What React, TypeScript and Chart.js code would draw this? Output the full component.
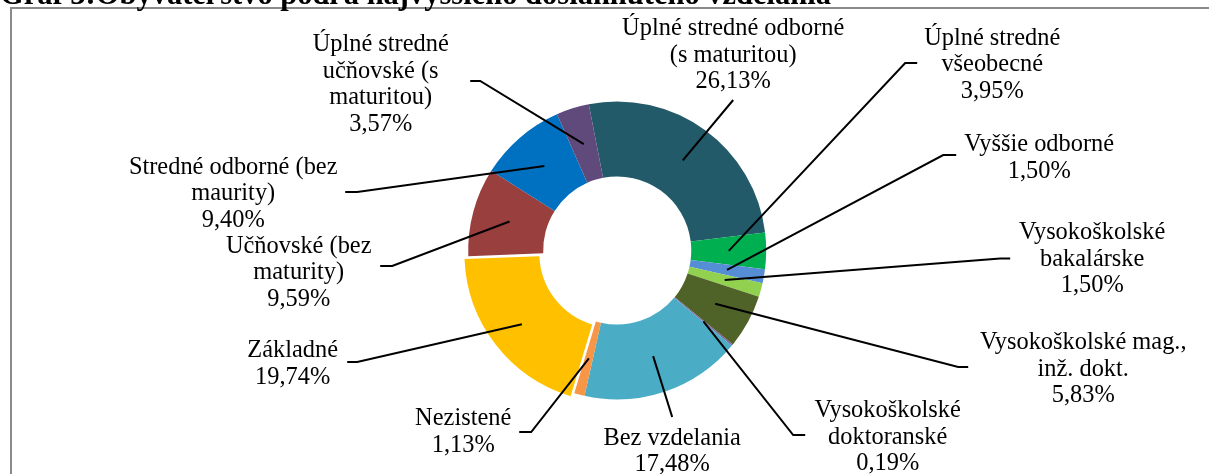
import React, { useEffect, useRef } from 'react';
import { Chart, registerables } from 'chart.js';

Chart.register(...registerables);

const TITLE = 'Graf 3:Obyvateľstvo podľa najvyššieho dosiahnutého vzdelania';

const categories = [
  'Úplné stredné odborné\n(s maturitou)',
  'Úplné stredné\nvšeobecné',
  'Vyššie odborné',
  'Vysokoškolské\nbakalárske',
  'Vysokoškolské mag.,\ninž. dokt.',
  'Vysokoškolské\ndoktoranské',
  'Bez vzdelania',
  'Nezistené',
  'Základné',
  'Učňovské (bez\nmaturity)',
  'Stredné odborné (bez\nmaurity)',
  'Úplné stredné\nučňovské (s\nmaturitou)',
];

const values = [26.13, 3.95, 1.5, 1.5, 5.83, 0.19, 17.48, 1.13, 19.74, 9.59, 9.4, 3.57];

const colors = [
  '#225a69', '#00b050', '#558ed5', '#92d050', '#4f6228', '#8064a2',
  '#4bacc6', '#f79646', '#ffc000', '#993f3d', '#0070c0', '#604a7b',
];

// slice explosion (Chart.js offset units)
const explode = [0, 0, 0, 0, 0, 0, 0, 0, 18, 0, 0, 0];

// label layout, relative to the doughnut centre (px)
const labelCenterX = [116, 375, 422, 475, 466, 270.5, 55, -154, -324.5, -318.5, -384, -236.5];
const labelFirstBaseline = [-215.5, -206, -99.5, -11.5, 98.5, 166.5, 194, 174.5, 106.5, 2, -77, -199.5];
const leaderElbow = [
  [116, -150.5], [288, -187.5], [326, -95.5], [383, 8], [341, 116.5], [176, 184.5],
  [55, 166.5], [-86, 181.5], [-260, 111.5], [-225, 15.5], [-260, -58.5], [-137, -169.5],
];
const leaderEnd = [
  [116, -150.5], [300, -187.5], [339, -95.5], [393, 8], [351, 116.5], [188, 184.5],
  [55, 166.5], [-98, 181.5], [-270, 111.5], [-237, 15.5], [-272, -58.5], [-147, -169.5],
];

const LINE_HEIGHT = 26.5;

const fmtPct = (v: number) => v.toFixed(2).replace('.', ',') + '%';

const decorPlugin = {
  id: 'decor',
  afterDraw(chart: any) {
    const ctx = chart.ctx as CanvasRenderingContext2D;
    const meta = chart.getDatasetMeta(0);
    const first = meta.data[0] as any;
    const cx = first.x;
    const cy = first.y;
    ctx.save();

    // frame
    ctx.strokeStyle = '#8a8a8a';
    ctx.lineWidth = 2;
    ctx.beginPath();
    ctx.moveTo(11, 474);
    ctx.lineTo(11, 8);
    ctx.lineTo(1209, 8);
    ctx.stroke();

    // title (cut off at top)
    ctx.fillStyle = '#000';
    ctx.font = 'bold 30.5px "Liberation Serif"';
    ctx.textAlign = 'left';
    ctx.textBaseline = 'alphabetic';
    ctx.fillText(TITLE, 0, 4);

    // leader lines
    ctx.strokeStyle = '#000';
    ctx.lineWidth = 2;
    meta.data.forEach((arc: any, i: number) => {
      const p = arc.tooltipPosition(false);
      ctx.beginPath();
      ctx.moveTo(p.x, p.y);
      ctx.lineTo(cx + leaderElbow[i][0], cy + leaderElbow[i][1]);
      ctx.lineTo(cx + leaderEnd[i][0], cy + leaderEnd[i][1]);
      ctx.stroke();
    });

    // labels
    ctx.font = '24.4px "Liberation Serif"';
    ctx.textAlign = 'center';
    ctx.fillStyle = '#000';
    categories.forEach((cat, i) => {
      const lines = cat.split('\n').concat([fmtPct(values[i])]);
      lines.forEach((ln, k) => {
        ctx.fillText(ln, cx + labelCenterX[i], cy + labelFirstBaseline[i] + k * LINE_HEIGHT);
      });
    });
    ctx.restore();
  },
};

export default function App() {
  const ref = useRef<HTMLCanvasElement>(null);
  useEffect(() => {
    if (!ref.current) return;
    const chart = new Chart(ref.current, {
      type: 'doughnut',
      data: {
        labels: categories,
        datasets: [
          {
            data: values,
            backgroundColor: colors,
            borderWidth: 0,
            offset: explode,
          } as any,
        ],
      },
      options: {
        responsive: false,
        animation: false,
        events: [],
        rotation: -11,
        cutout: '49.7%',
        radius: 149,
        layout: { padding: { left: 317.2, right: 291.8, top: 100.5, bottom: 73.5 } },
        plugins: { legend: { display: false }, tooltip: { enabled: false } },
      } as any,
      plugins: [decorPlugin],
    });
    return () => chart.destroy();
  }, []);
  return (
    <div style={{ position: 'fixed', left: 0, top: 0, width: 1209, height: 474, background: '#fff' }}>
      <canvas ref={ref} width={1209} height={474} style={{ display: 'block', width: 1209, height: 474 }} />
    </div>
  );
}
